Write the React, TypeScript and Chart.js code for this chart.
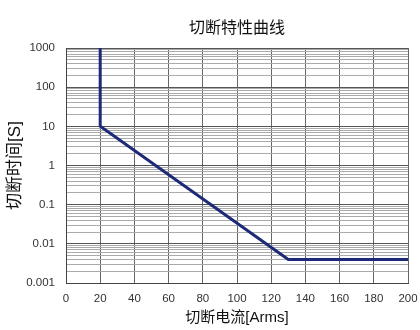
import React, { useEffect, useRef } from "react";
import { Chart, registerables } from "chart.js";

Chart.register(...registerables);

const chartTitle = "切断特性曲线";
const xTitle = "切断电流[Arms]";
const yTitle = "切断时间[S]";
const currentValues = [20, 20, 130, 200];
const timeValues = [1000, 10, 0.004, 0.004];
const decadeTicks = [0.001, 0.01, 0.1, 1, 10, 100, 1000];
const decadeLabels = ["0.001", "0.01", "0.1", "1", "10", "100", "1000"];
const minorMultipliers = [1, 2, 3, 4, 5, 6, 7, 8, 9];

const FONT = "'Liberation Sans', 'Noto Sans CJK SC', sans-serif";

function isDecade(v: number) {
  return decadeTicks.some((d) => Math.abs(v - d) / d < 1e-6);
}

const centeredTitle = {
  id: "centeredTitle",
  afterDraw(chart: any) {
    const { ctx, chartArea } = chart;
    ctx.save();
    ctx.font = `16px ${FONT}`;
    ctx.fillStyle = "#111";
    ctx.textAlign = "center";
    ctx.textBaseline = "middle";
    ctx.fillText(chartTitle, (chartArea.left + chartArea.right) / 2, 29);
    ctx.restore();
  },
};

export default function App() {
  const ref = useRef<HTMLCanvasElement | null>(null);
  useEffect(() => {
    document.body.style.margin = "0";
    const canvas = ref.current!;
    const chart = new Chart(canvas, {
      type: "line",
      data: {
        datasets: [
          {
            data: currentValues.map((x, i) => ({ x, y: timeValues[i] })),
            borderColor: "#1c2a78",
            borderWidth: 3,
            pointRadius: 0,
            tension: 0,
            fill: false,
          },
        ],
      },
      plugins: [centeredTitle],
      options: {
        responsive: false,
        animation: false,
        layout: { padding: { left: 0, right: 12, top: 48, bottom: 0 } },
        plugins: {
          legend: { display: false },
          tooltip: { enabled: false },
          title: { display: false },
        },
        scales: {
          x: {
            type: "linear",
            min: 0,
            max: 200,
            ticks: {
              stepSize: 20,
              color: "#333",
              font: { family: FONT, size: 11.5 },
              padding: 0,
              maxRotation: 0,
            },
            grid: {
              color: "#666",
              lineWidth: 1,
              drawTicks: true,
              tickLength: 9,
              tickColor: "rgba(0,0,0,0)",
            },
            border: { color: "#444", width: 1 },
            title: {
              display: true,
              text: xTitle,
              color: "#111",
              font: { family: FONT, size: 15 },
              padding: { top: 0, bottom: 3 },
            },
            afterFit: (s: any) => {
              s.height = 47;
            },
          },
          y: {
            type: "logarithmic",
            min: 0.001,
            max: 1000,
            afterBuildTicks: (s: any) => {
              const ticks: { value: number }[] = [];
              decadeTicks.forEach((d, i) => {
                if (i === decadeTicks.length - 1) {
                  ticks.push({ value: d });
                } else {
                  minorMultipliers.forEach((m) => ticks.push({ value: +(m * d).toPrecision(6) }));
                }
              });
              s.ticks = ticks;
            },
            ticks: {
              autoSkip: false,
              color: "#333",
              font: { family: FONT, size: 11.5 },
              padding: 11,
              callback: (v: any) => {
                const idx = decadeTicks.findIndex((d) => Math.abs(v - d) / d < 1e-6);
                return idx >= 0 ? decadeLabels[idx] : "";
              },
            },
            grid: {
              drawTicks: false,
              color: (ctx: any) => (ctx.tick && isDecade(ctx.tick.value) ? "#555" : "#aaa"),
              lineWidth: 1,
            },
            border: { color: "#444", width: 1 },
            title: {
              display: true,
              text: yTitle,
              color: "#111",
              font: { family: FONT, size: 17 },
              padding: { top: 5, bottom: 0 },
            },
            afterFit: (s: any) => {
              s.width = 66;
            },
          },
        },
      },
    });
    return () => chart.destroy();
  }, []);
  return <canvas ref={ref} width={420} height={330} style={{ display: "block" }} />;
}
